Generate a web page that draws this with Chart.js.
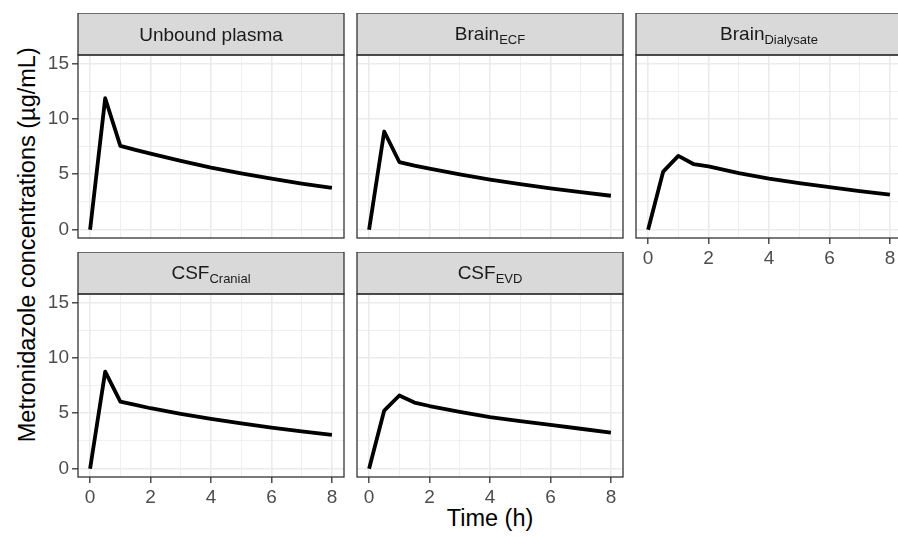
<!DOCTYPE html>
<html>
<head>
<meta charset="utf-8">
<script src="https://cdn.jsdelivr.net/npm/chart.js@4/dist/chart.umd.min.js"></script>
<style>
  html, body { margin: 0; padding: 0; background: #fff; }
  body { width: 898px; height: 537px; position: relative; overflow: hidden; font-family: 'Liberation Sans', Arial, sans-serif; }
  canvas { position: absolute; }
  .title { position: absolute; font-size: 23.5px; line-height: 23.5px; color: #000; text-align: center; white-space: nowrap; }
</style>
</head>
<body>
<div class="title" style="left:390px; top:507px; width:200px;">Time (h)</div>
<div class="title" style="left:-222px; top:233px; width:500px; transform: rotate(-90deg);">Metronidazole concentrations (µg/mL)</div>
<script>
/*
Metronidazole concentration-time profiles, one facet per compartment
facet_wrap style layout: 3 columns, 2 rows
*/

const times = [0, 0.5, 1, 1.5, 2, 3, 4, 5, 6, 7, 8];

const unboundPlasma = [0, 11.85, 7.56, 7.2, 6.86, 6.2, 5.6, 5.07, 4.6, 4.15, 3.76];
const brainEcf = [0, 8.85, 6.1, 5.78, 5.5, 4.98, 4.52, 4.1, 3.72, 3.38, 3.06];
const brainDialysate = [0, 5.24, 6.65, 5.92, 5.7, 5.1, 4.6, 4.2, 3.84, 3.48, 3.16];
const csfCranial = [0, 8.75, 6.05, 5.75, 5.45, 4.95, 4.5, 4.08, 3.7, 3.36, 3.05];
const csfEvd = [0, 5.24, 6.6, 5.96, 5.65, 5.12, 4.64, 4.28, 3.95, 3.6, 3.26];

/* strip labels: main text + subscript */
const panelNames = ['Unbound plasma', 'Brain', 'Brain', 'CSF', 'CSF'];
const panelSubs = ['', 'ECF', 'Dialysate', 'Cranial', 'EVD'];
const panelSeries = [unboundPlasma, brainEcf, brainDialysate, csfCranial, csfEvd];

/* tick labels and grid breaks */
const xTicks = [0, 2, 4, 6, 8];
const xMinor = [1, 3, 5, 7];
const yTicks = [0, 5, 10, 15];
const yMinor = [2.5, 7.5, 12.5];

const FONT = "'Liberation Sans', Arial, sans-serif";
const STRIP_H = 42;
const AXIS_W = 78;
const AXIS_H = 32;
const PANEL_W = 266;
const PANEL_H = 183;

/* panel layout: column / row positions in the page */
const colLeft = [78, 357, 636];
const rowTop = [13, 252];

const stripPlugin = {
  id: 'strip',
  afterDraw(chart, args, opts) {
    const { ctx, chartArea: a } = chart;
    const w = a.right - a.left;
    const top = a.top - STRIP_H;
    ctx.save();
    ctx.fillStyle = '#D9D9D9';
    ctx.fillRect(a.left, top, w, STRIP_H);
    ctx.strokeStyle = '#333333';
    ctx.lineWidth = 1.3;
    ctx.strokeRect(a.left, top, w, STRIP_H);
    ctx.strokeRect(a.left, a.top, w, a.bottom - a.top);

    // label with optional subscript
    ctx.fillStyle = '#1A1A1A';
    ctx.textBaseline = 'alphabetic';
    ctx.textAlign = 'left';
    ctx.font = '19px ' + FONT;
    const mw = ctx.measureText(opts.name).width;
    ctx.font = '13px ' + FONT;
    const sw = opts.sub ? ctx.measureText(opts.sub).width : 0;
    const x0 = (a.left + a.right) / 2 - (mw + sw) / 2;
    const base = opts.sub ? top + 26.8 : top + 28;
    ctx.font = '19px ' + FONT;
    ctx.fillText(opts.name, x0, base);
    if (opts.sub) {
      ctx.font = '13px ' + FONT;
      ctx.fillText(opts.sub, x0 + mw, base + 4.4);
    }
    ctx.restore();
  },
};

function makePanel(i) {
  const col = i % 3;
  const row = Math.floor(i / 3);
  const showY = col === 0;
  const showX = row === 1 || col === 2;

  const canvas = document.createElement('canvas');
  canvas.width = AXIS_W + PANEL_W + 6;
  canvas.height = STRIP_H + PANEL_H + AXIS_H;
  canvas.style.left = colLeft[col] - AXIS_W + 'px';
  canvas.style.top = rowTop[row] + 'px';
  document.body.appendChild(canvas);

  const isMajor = (list, v) => list.some((t) => Math.abs(t - v) < 1e-6);

  new Chart(canvas, {
    type: 'line',
    data: {
      datasets: [
        {
          data: times.map((t, k) => ({ x: t, y: panelSeries[i][k] })),
          borderColor: '#000000',
          borderWidth: 3.8,
          borderJoinStyle: 'round',
          pointRadius: 0,
          tension: 0,
          fill: false,
        },
      ],
    },
    options: {
      responsive: false,
      animation: false,
      devicePixelRatio: 1,
      layout: { padding: { top: STRIP_H, right: 6, left: 0, bottom: 0 } },
      plugins: {
        legend: { display: false },
        tooltip: { enabled: false },
        strip: { name: panelNames[i], sub: panelSubs[i] },
      },
      scales: {
        x: {
          type: 'linear',
          min: -0.4,
          max: 8.4,
          afterBuildTicks: (s) => {
            s.ticks = xTicks.concat(xMinor).sort((p, q) => p - q).map((v) => ({ value: v }));
          },
          afterFit: (s) => { s.height = AXIS_H; },
          border: { display: false },
          grid: {
            color: '#EBEBEB',
            lineWidth: (c) => (isMajor(xTicks, c.tick.value) ? 1.6 : 0.8),
            drawTicks: true,
            tickLength: 6,
            tickWidth: 1.3,
            tickColor: (c) => (showX && isMajor(xTicks, c.tick.value) ? '#333333' : 'rgba(0,0,0,0)'),
          },
          ticks: {
            autoSkip: false,
            maxRotation: 0,
            padding: 3,
            color: showX ? '#4D4D4D' : 'rgba(0,0,0,0)',
            font: { family: FONT, size: 19 },
            callback: (v) => (isMajor(xTicks, v) ? String(v) : ''),
          },
        },
        y: {
          type: 'linear',
          min: -0.75,
          max: 15.75,
          afterBuildTicks: (s) => {
            s.ticks = yTicks.concat(yMinor).sort((p, q) => p - q).map((v) => ({ value: v }));
          },
          afterFit: (s) => { s.width = AXIS_W; },
          border: { display: false },
          grid: {
            color: '#EBEBEB',
            lineWidth: (c) => (isMajor(yTicks, c.tick.value) ? 1.6 : 0.8),
            drawTicks: true,
            tickLength: 6,
            tickWidth: 1.3,
            tickColor: (c) => (showY && isMajor(yTicks, c.tick.value) ? '#333333' : 'rgba(0,0,0,0)'),
          },
          ticks: {
            autoSkip: false,
            padding: 3,
            color: showY ? '#4D4D4D' : 'rgba(0,0,0,0)',
            font: { family: FONT, size: 19 },
            callback: (v) => (isMajor(yTicks, v) ? String(v) : ''),
          },
        },
      },
    },
    plugins: [stripPlugin],
  });
}

for (let i = 0; i < panelNames.length; i++) {
  makePanel(i);
}
</script>
</body>
</html>
